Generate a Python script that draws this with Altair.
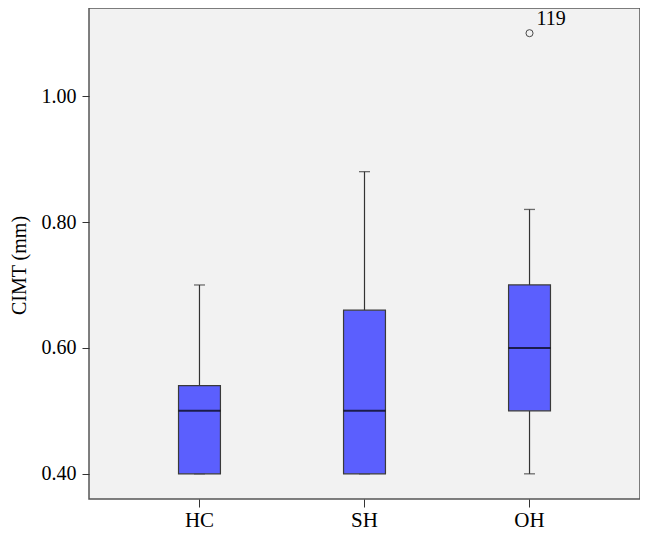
import altair as alt
import pandas as pd

groups = ["HC", "SH", "OH"]
lower_whisker = [0.40, 0.40, 0.40]
q1 = [0.40, 0.40, 0.50]
median = [0.50, 0.50, 0.60]
q3 = [0.54, 0.66, 0.70]
upper_whisker = [0.70, 0.88, 0.82]

outlier_group = ["OH"]
outlier_value = [1.10]
outlier_label = ["119"]

y_ticks = [0.40, 0.60, 0.80, 1.00]

FONT = "Liberation Serif"

box_df = pd.DataFrame({
    "group": groups, "lw": lower_whisker, "q1": q1,
    "med": median, "q3": q3, "uw": upper_whisker,
})
out_df = pd.DataFrame({"group": outlier_group, "value": outlier_value,
                       "label": outlier_label})

x_enc = alt.X(
    "group:N", sort=groups, title=None,
    scale=alt.Scale(paddingInner=0.746, paddingOuter=0.5425),
    axis=alt.Axis(labelAngle=0, labelFont=FONT, labelFontSize=21,
                  labelColor="#000", tickColor="#333", tickSize=8,
                  labelPadding=2, domain=False),
)
y_scale = alt.Scale(domain=[0.36, 1.14], nice=False, zero=False)
y_axis = alt.Axis(values=y_ticks, format=".2f", title="CIMT (mm)",
                  labelFont=FONT, labelFontSize=20, labelColor="#000",
                  titleFont=FONT, titleFontSize=20, titleFontWeight="normal",
                  titleColor="#000", tickColor="#333", tickSize=7,
                  labelPadding=6, domain=False, grid=False,
                  titleX=-64, titleY=257, titleBaseline="alphabetic")

base = alt.Chart(box_df)

whisker_up = base.mark_rule(color="#333", strokeWidth=1.2).encode(
    x=x_enc, y=alt.Y("q3:Q", scale=y_scale, axis=y_axis), y2="uw:Q")
whisker_down = base.mark_rule(color="#333", strokeWidth=1.2).encode(
    x=x_enc, y=alt.Y("lw:Q", scale=y_scale), y2="q1:Q")
cap_up = base.mark_tick(color="#333", size=11, thickness=1.3).encode(
    x=x_enc, y=alt.Y("uw:Q", scale=y_scale))
cap_down = base.mark_tick(color="#333", size=11, thickness=1.3).encode(
    x=x_enc, y=alt.Y("lw:Q", scale=y_scale))
box = base.mark_bar(color="#5b5ffe", stroke="#3a3a3a", strokeWidth=1.2).encode(
    x=x_enc, y=alt.Y("q1:Q", scale=y_scale), y2="q3:Q")
med = base.mark_tick(color="#000", size=42, thickness=2).encode(
    x=x_enc, y=alt.Y("med:Q", scale=y_scale))

outl = alt.Chart(out_df).mark_point(shape="circle", filled=False, color="#000",
                                     size=50, strokeWidth=1).encode(
    x=x_enc, y=alt.Y("value:Q", scale=y_scale))
outl_text = alt.Chart(out_df).mark_text(align="left", baseline="alphabetic",
                                        dx=7, dy=-8, font=FONT, fontSize=20,
                                        color="#000").encode(
    x=x_enc, y=alt.Y("value:Q", scale=y_scale), text="label:N")

chart = alt.layer(whisker_up, whisker_down, cap_up, cap_down, box, med,
                  outl, outl_text).properties(
    width=551, height=491,
    autosize=alt.AutoSizeParams(type="none"),
    padding={"left": 81, "top": 0, "right": 0, "bottom": 40},
    background="#ffffff",
).configure_view(
    fill="#f2f2f2", stroke="#555555", strokeWidth=1.5,
)

chart.save("out.html", embed_options={"renderer": "svg", "actions": False})
